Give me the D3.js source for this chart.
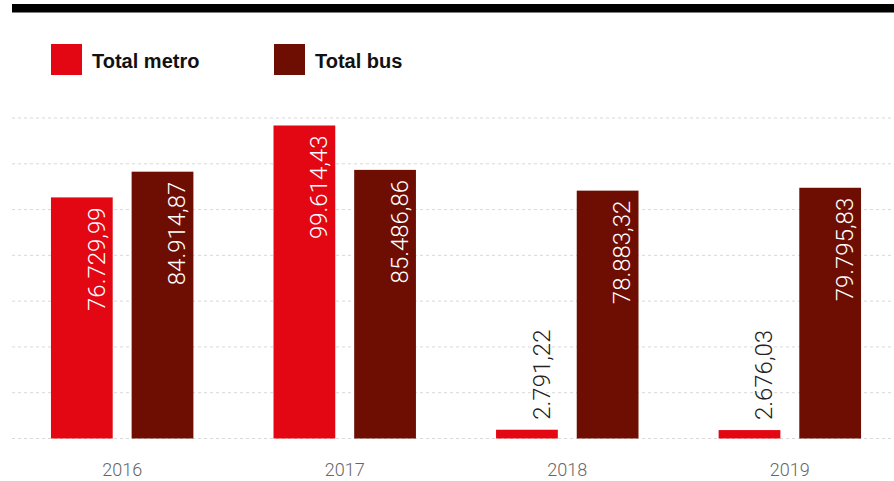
<!DOCTYPE html>
<html>
<head>
<meta charset="utf-8">
<script src="https://cdn.jsdelivr.net/npm/d3@7"></script>
<style>
  body { margin: 0; background: #fff; }
  .year { font-family: Roboto, "Liberation Sans", sans-serif; font-weight: 300; font-size: 18px; fill: #666; }
  .val { font-family: Roboto, "Liberation Sans", sans-serif; font-weight: 300; font-size: 24px; }
  .legend text { font-family: "Liberation Sans", Arial, sans-serif; font-weight: bold; font-size: 20px; fill: #111; }
</style>
</head>
<body>
<svg id="chart"></svg>
<script>
// data
const years = ['2016', '2017', '2018', '2019'];
const seriesKeys = ['metro', 'bus'];
const seriesNames = ['Total metro', 'Total bus'];
const seriesColors = ['#e30613', '#6e0e02'];
const metro = [76729.99, 99614.43, 2791.22, 2676.03];
const bus = [84914.87, 85486.86, 78883.32, 79795.83];

const yMax = 102000;
const gridCount = 7;

const fmt = v => v.toLocaleString('de-DE', {minimumFractionDigits: 2, maximumFractionDigits: 2});

const config = {
  width: 894,
  height: 481,
  left: 12,
  baseline: 438.5,
  top: 118
};

const svg = d3.select('#chart')
  .attr('width', config.width)
  .attr('height', config.height);

// top rule
svg.append('rect')
  .attr('x', config.left)
  .attr('y', 4)
  .attr('width', config.width - config.left)
  .attr('height', 8.5)
  .attr('fill', '#000');

// legend
const legend = svg.append('g').attr('class', 'legend');
const legendX = [51, 274];
seriesNames.forEach((name, i) => {
  const g = legend.append('g').attr('transform', `translate(${legendX[i]}, 44)`);
  g.append('rect').attr('width', 31).attr('height', 31).attr('fill', seriesColors[i]);
  g.append('text').attr('x', 41).attr('y', 23.5).text(name);
});

const xScale = d3.scaleBand()
  .domain(years)
  .range([config.left, 900])
  .paddingInner(0.36)
  .paddingOuter(0.175);

const xSub = d3.scaleBand()
  .domain(seriesKeys)
  .range([0, xScale.bandwidth()])
  .paddingInner(0.2346);

const yScale = d3.scaleLinear()
  .domain([0, yMax])
  .range([config.baseline, config.top]);

// gridlines
const gridValues = d3.range(gridCount + 1).map(i => i * yMax / gridCount);
svg.append('g')
  .selectAll('line')
  .data(gridValues)
  .join('line')
    .attr('x1', config.left)
    .attr('x2', config.width)
    .attr('y1', d => yScale(d))
    .attr('y2', d => yScale(d))
    .attr('stroke', '#d9d9d9')
    .attr('stroke-width', 1)
    .attr('stroke-dasharray', '3,3');

const rows = years.map((y, i) => ({year: y, values: [metro[i], bus[i]]}));

const groups = svg.append('g')
  .selectAll('g')
  .data(rows)
  .join('g')
    .attr('transform', d => `translate(${xScale(d.year)}, 0)`);

const bars = groups.selectAll('g.bar')
  .data(d => d.values.map((v, k) => ({key: seriesKeys[k], value: v, color: seriesColors[k]})))
  .join('g')
    .attr('class', 'bar');

bars.append('rect')
  .attr('x', d => xSub(d.key))
  .attr('width', xSub.bandwidth())
  .attr('y', d => yScale(d.value))
  .attr('height', d => yScale(0) - yScale(d.value))
  .attr('fill', d => d.color);

// value labels: inside the bar when it fits, above it otherwise
bars.each(function(d) {
  const g = d3.select(this);
  const xr = xSub(d.key) + xSub.bandwidth() - 8;
  const yTop = yScale(d.value);
  const t = g.append('text')
    .attr('class', 'val')
    .text(fmt(d.value));
  const len = t.node().getComputedTextLength();
  if (yScale(0) - yTop > len + 20) {
    t.attr('transform', `translate(${xr}, ${yTop + 10}) rotate(-90)`)
      .attr('text-anchor', 'end')
      .attr('fill', '#fff');
  } else {
    t.attr('transform', `translate(${xr}, ${yTop - 10}) rotate(-90)`)
      .attr('text-anchor', 'start')
      .attr('fill', '#222');
  }
});

// year labels
svg.append('g')
  .selectAll('text')
  .data(years)
  .join('text')
    .attr('class', 'year')
    .attr('x', d => xScale(d) + xScale.bandwidth() / 2)
    .attr('y', 476)
    .attr('text-anchor', 'middle')
    .text(d => d);
</script>
</body>
</html>
